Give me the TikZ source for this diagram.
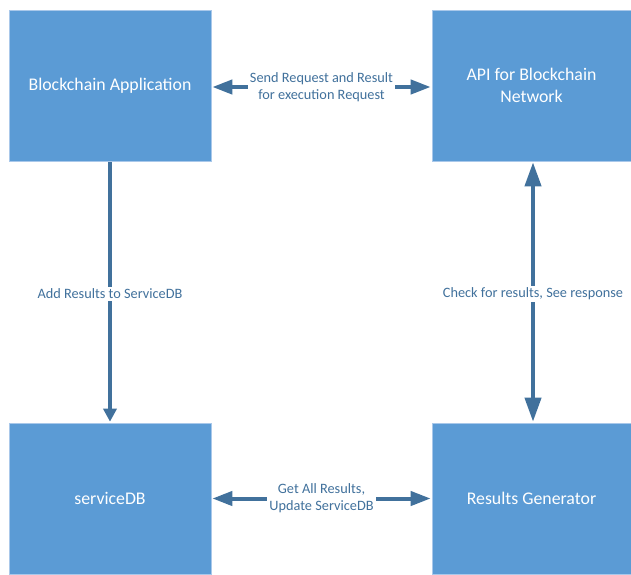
\documentclass[tikz,border=0pt]{standalone}
\usepackage{fontspec}
\setmainfont{Carlito}
\usetikzlibrary{arrows.meta,positioning}
\definecolor{boxblue}{HTML}{5B9BD5}
\definecolor{boxedge}{HTML}{A9C8EA}
\definecolor{linkblue}{HTML}{41719C}
\begin{document}
\begin{tikzpicture}[
  x=1pt, y=-1pt,
  block/.style={rectangle, draw=boxedge, line width=0.6pt, fill=boxblue, minimum width=202pt, minimum height=151pt, inner sep=0pt, text=white, font=\fontsize{17.8}{22}\selectfont, align=center},
  link/.style={line width=4pt, draw=linkblue, {Triangle[length=20pt,width=14pt]}-{Triangle[length=20pt,width=14pt]}, shorten <=1pt, shorten >=1pt},
  lbl/.style={fill=white, text=linkblue, inner sep=2pt, font=\fontsize{14.3}{17}\selectfont, align=center}
]
\useasboundingbox (0,0) rectangle (631,574);

\node[block] (app) at (110,85.5) {\raisebox{-2pt}{Blockchain Application}};
\node[block, minimum width=199pt] (api) at (531.5,85.5) {API for Blockchain\\Network};
\node[block] (db) at (110,498.5) {serviceDB};
\node[block, minimum width=199pt] (gen) at (531.5,498.5) {Results Generator};

\draw[link] (app.east |- 0,87) -- node[lbl] {Send Request and Result\\for execution Request} (api.west |- 0,87);
\draw[link, line width=3.5pt, {-Triangle[length=13pt,width=13pt]}] (app) -- node[lbl, yshift=-2pt] {Add Results to ServiceDB} (db);
\draw[link, {Triangle[length=24pt,width=16pt]}-{Triangle[length=24pt,width=16pt]}] (api.south -| 533,0) -- node[lbl, yshift=-2pt] {Check for results, See response} (gen.north -| 533,0);
\draw[link] (db) -- node[lbl] {Get All Results,\\Update ServiceDB} (gen);
\end{tikzpicture}
\end{document}
